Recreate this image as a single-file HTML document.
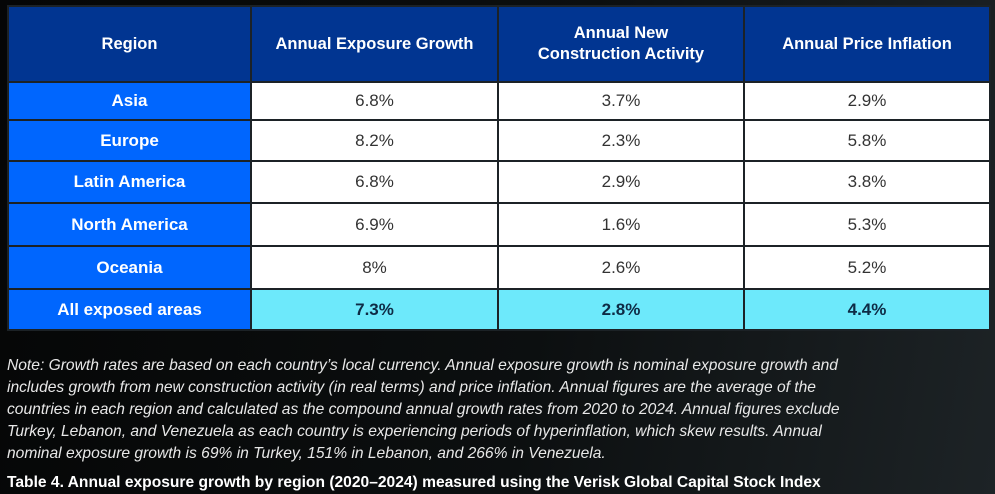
<!DOCTYPE html>
<html><head><meta charset="utf-8"><style>
body{margin:0;width:995px;height:494px;overflow:hidden;background:linear-gradient(100deg,#050606 0%,#0c0f10 55%,#1d2326 100%);font-family:"Liberation Sans",sans-serif;position:relative}
.c{position:absolute;display:flex;align-items:center;justify-content:center;text-align:center;box-sizing:border-box;border-right:2px solid #1c2226;border-bottom:2px solid #1c2226}
.h{background:#013591;color:#fff;font-weight:bold;font-size:16.5px;line-height:21px}
.r{background:#0066fe;color:#fff;font-weight:bold;font-size:17px}
.v{background:#fff;color:#333;font-size:17px}
.t .v{background:#6de9fb;color:#0e2b45;font-weight:bold}
.note{position:absolute;left:7px;top:355px;white-space:nowrap;color:#e8e8e8;font-style:italic;font-size:15.6px;line-height:22px}
.cap{position:absolute;left:7px;top:474px;white-space:nowrap;color:#fff;font-weight:bold;font-size:15.6px}
</style></head><body>
<div id="tbl"></div>
<div class="note">Note: Growth rates are based on each country’s local currency. Annual exposure growth is nominal exposure growth and<br>includes growth from new construction activity (in real terms) and price inflation. Annual figures are the average of the<br>countries in each region and calculated as the compound annual growth rates from 2020 to 2024. Annual figures exclude<br>Turkey, Lebanon, and Venezuela as each country is experiencing periods of hyperinflation, which skew results. Annual<br>nominal exposure growth is 69% in Turkey, 151% in Lebanon, and 266% in Venezuela.</div>
<div class="cap">Table 4. Annual exposure growth by region (2020–2024) measured using the Verisk Global Capital Stock Index</div>
<script>
const headers=["Region","Annual Exposure Growth","Annual New<br>Construction Activity","Annual Price Inflation"];
const regions=["Asia","Europe","Latin America","North America","Oceania","All exposed areas"];
const exposure=["6.8%","8.2%","6.8%","6.9%","8%","7.3%"];
const construction=["3.7%","2.3%","2.9%","1.6%","2.6%","2.8%"];
const inflation=["2.9%","5.8%","3.8%","5.3%","5.2%","4.4%"];
const xs=[7,252,499,745,991];
const ys=[5,83,121,162,204,247,290,331];
const tbl=document.getElementById('tbl');
function cell(parent,cls,html,c,r,name){
 const d=document.createElement('div');
 d.className='c '+cls;
 d.style.left=xs[c]+'px';d.style.top=ys[r]+'px';
 d.style.width=(xs[c+1]-xs[c])+'px';d.style.height=(ys[r+1]-ys[r])+'px';
 if(c===0)d.style.borderLeft='2px solid #1c2226';
 if(r===0)d.style.borderTop='2px solid #1c2226';
 d.innerHTML=html;
 
 
 parent.appendChild(d);
}
headers.forEach((h,i)=>cell(tbl,'h',h,i,0,'header-cell'));
const cols=[exposure,construction,inflation];
regions.forEach((rg,i)=>{
 const row=document.createElement('div');
 row.className=i===regions.length-1?'t':'';
 
 
 tbl.appendChild(row);
 cell(row,'r',rg,0,i+1,'region-cell');
 cols.forEach((col,j)=>cell(row,'v',col[i],j+1,i+1,'value-cell'));
});
</script>
</body></html>
